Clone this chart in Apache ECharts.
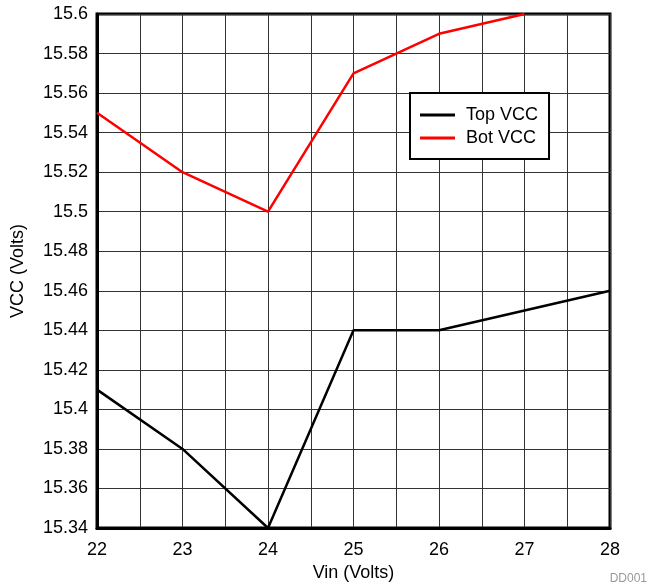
<!DOCTYPE html>
<html>
<head>
<meta charset="utf-8">
<script src="https://cdn.jsdelivr.net/npm/echarts@6/dist/echarts.min.js"></script>
<style>html,body{margin:0;padding:0;background:#fff;}#c{width:648px;height:588px;}</style>
</head>
<body>
<div id="c"></div>
<script>
const vin = [22, 23, 24, 25, 26, 27, 28];
const topVcc = [15.41, 15.38, 15.34, 15.44, 15.44, 15.45, 15.46];
const botVin = [22, 23, 24, 25, 26, 27];
const botVcc = [15.55, 15.52, 15.50, 15.57, 15.59, 15.60];
const seriesNames = ['Top VCC', 'Bot VCC'];

const font = 'Liberation Sans, Arial, sans-serif';
const chart = echarts.init(document.getElementById('c'), null, {renderer: 'canvas'});
chart.setOption({
  animation: false,
  backgroundColor: '#fff',
  grid: {left: 97, right: 38, top: 14, bottom: 60, show: true, borderColor: '#000', borderWidth: 3, backgroundColor: 'transparent'},
  legend: {
    orient: 'vertical', left: 410, top: 93,
    backgroundColor: '#fff',
    borderColor: '#000', borderWidth: 2, borderRadius: 0,
    padding: [13, 11, 12, 10],
    icon: 'rect',
    itemWidth: 35, itemHeight: 3, itemGap: 5,
    textStyle: {fontFamily: font, fontSize: 18, color: '#000', padding: [0, 0, 0, 6], lineHeight: 18},
    data: seriesNames
  },
  xAxis: {
    type: 'value', min: 22, max: 28, interval: 0.5,
    name: 'Vin (Volts)', nameLocation: 'middle', nameGap: 35,
    nameTextStyle: {fontFamily: font, fontSize: 18, color: '#000'},
    axisLine: {show: true, lineStyle: {color: '#000', width: 3}},
    axisTick: {show: false},
    axisLabel: {fontFamily: font, fontSize: 18, color: '#000', margin: 13,
      formatter: v => (Math.abs(v - Math.round(v)) < 1e-6 ? String(Math.round(v)) : '')},
    splitLine: {show: true, lineStyle: {color: '#333', width: 1}}
  },
  yAxis: {
    type: 'value', min: 15.34, max: 15.6, interval: 0.02,
    name: 'VCC (Volts)', nameLocation: 'middle', nameGap: 70, nameRotate: 90,
    nameTextStyle: {fontFamily: font, fontSize: 18, color: '#000'},
    axisLine: {show: true, lineStyle: {color: '#000', width: 3}},
    axisTick: {show: false},
    axisLabel: {fontFamily: font, fontSize: 18, color: '#000', margin: 9,
      formatter: v => String(parseFloat(v.toFixed(2)))},
    splitLine: {show: true, lineStyle: {color: '#333', width: 1}}
  },
  series: [
    {name: seriesNames[0], type: 'line', symbol: 'none', color: '#000',
      lineStyle: {color: '#000', width: 2.5},
      data: vin.map((x, i) => [x, topVcc[i]])},
    {name: seriesNames[1], type: 'line', symbol: 'none', color: '#ff0000',
      lineStyle: {color: '#ff0000', width: 2.5},
      data: botVin.map((x, i) => [x, botVcc[i]])}
  ],
  graphic: [{type: 'text', right: 1, bottom: 3,
    style: {text: 'DD001', fill: '#999', font: '12px ' + font}}]
});
</script>
</body>
</html>
